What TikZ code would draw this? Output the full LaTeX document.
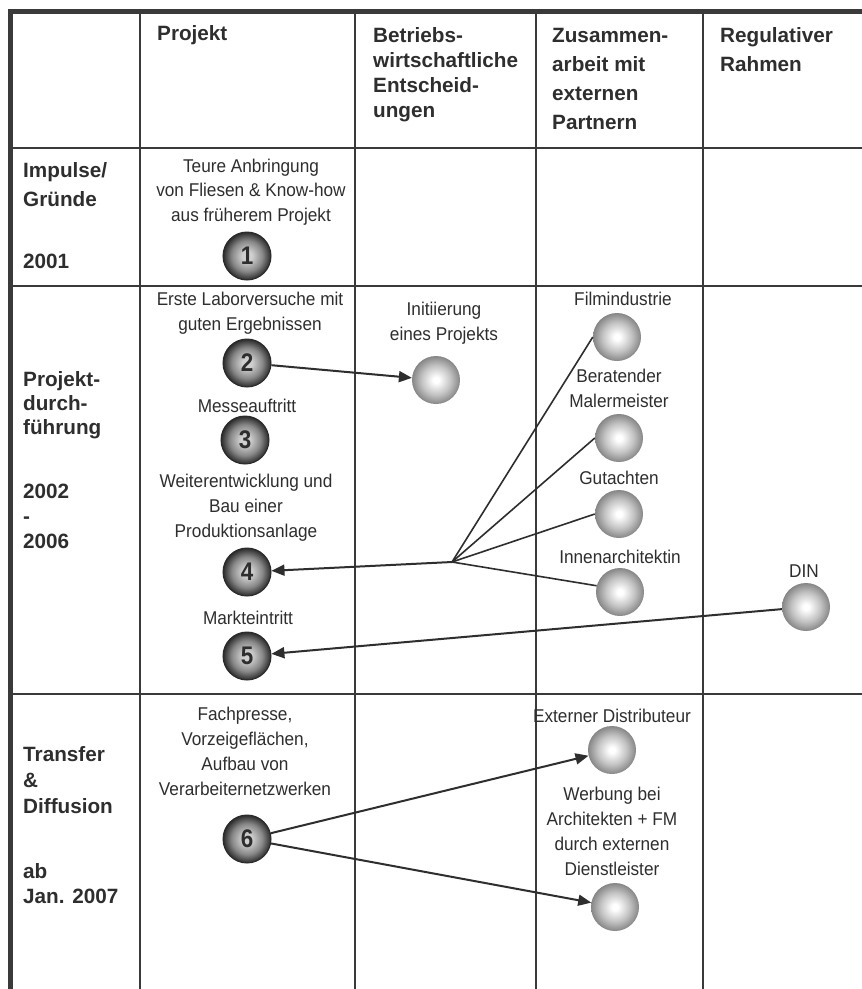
\documentclass[tikz,border=0pt]{standalone}
\usepackage{fontspec}
\setmainfont{Liberation Sans}
\newfontfamily\bodyfamily{Liberation Sans}[FakeStretch=0.93]
\newfontfamily\digitfamily{Liberation Sans}[FakeStretch=0.88]
\usetikzlibrary{arrows.meta}

% stacked lines: first line's baseline is the box baseline
\newcommand{\lstack}[2]{\vtop{\baselineskip=#1\lineskiplimit=-\maxdimen\lineskip=0pt\halign{##\hfil\cr#2\crcr}}}
\newcommand{\cstack}[2]{\vtop{\baselineskip=#1\lineskiplimit=-\maxdimen\lineskip=0pt\halign{\hfil##\hfil\cr#2\crcr}}}

\definecolor{ink}{HTML}{2E2E2E}
\definecolor{rule}{HTML}{3A3A3A}
\definecolor{numA}{HTML}{D0D0D0}
\definecolor{numB}{HTML}{888888}
\definecolor{numC}{HTML}{2A2A2A}
\definecolor{parA}{HTML}{FFFFFF}
\definecolor{parB}{HTML}{C4C4C4}
\definecolor{parC}{HTML}{868686}

\pgfdeclareradialshading{numshade}{\pgfpoint{0bp}{0bp}}{color(0bp)=(numA); color(5bp)=(numA); color(16bp)=(numB); color(25bp)=(numC); color(50bp)=(numC)}
\pgfdeclareradialshading{parshade}{\pgfpoint{0bp}{0bp}}{color(0bp)=(parA); color(3bp)=(parA); color(15bp)=(parB); color(25bp)=(parC); color(50bp)=(parC)}

\tikzset{
  frame/.style={draw=rule, line width=4.5pt},
  gridline/.style={draw=rule, line width=2.5pt},
  head/.style={inner sep=0pt, anchor=base west, text=ink, font=\bfseries\fontsize{20.7}{25}\selectfont},
  body/.style={inner sep=0pt, anchor=base, text=ink, font=\bodyfamily\fontsize{18.5}{25}\selectfont},
  numball/.style={circle, minimum size=48pt, inner sep=0pt, shade, shading=numshade, draw=numC, line width=1pt, text=ink, font=\digitfamily\bfseries\fontsize{25.5}{25}\selectfont},
  partball/.style={circle, minimum size=48pt, inner sep=0pt, shade, shading=parshade},
  flow/.style={draw=ink, line width=2pt, -{Triangle[length=13pt,width=11pt]}},
  fan/.style={draw=ink, line width=1.6pt}
}

\begin{document}
\begin{tikzpicture}[x=1pt, y=-1pt]
\useasboundingbox (0,0) rectangle (862,989);
\fill[white] (0,0) rectangle (862,989);

% table rules
\foreach \x in {140,355,536,703} \draw[gridline] (\x,11.5) -- (\x,989);
\foreach \y in {148,286,694} \draw[gridline] (10.5,\y) -- (862,\y);
\draw[frame] (10.5,989) -- (10.5,11.5) -- (862,11.5);

% column headings
\node[head] (hProj) at (157,40) {Projekt};
\node[head] (hBetr) at (373,42) {\lstack{25pt}{Betriebs-\cr wirtschaftliche\cr Entscheid-\cr ungen}};
\node[head] (hZus) at (552,42) {\lstack{29pt}{Zusammen-\cr arbeit mit\cr externen\cr Partnern}};
\node[head] (hReg) at (720,42) {\lstack{29pt}{Regulativer\cr Rahmen}};

% phase headings
\node[head] (lImp) at (23,177) {\lstack{29pt}{Impulse/\cr Gründe}};
\node[head] (lY1) at (23,268) {2001};
\node[head] (lPro) at (23,386) {\lstack{24pt}{Projekt-\cr durch-\cr führung}};
\node[head] (lY2) at (23,498) {\lstack{25pt}{2002\cr -\cr 2006}};
\node[head] (lTra) at (23,761) {\lstack{26pt}{Transfer\cr \&\cr Diffusion}};
\node[head] (lY3) at (23,878) {\lstack{25pt}{ab\cr Jan. 2007}};

% project column
\node[body] (t1) at (251,172) {\cstack{24.5pt}{Teure Anbringung\cr von Fliesen \& Know-how\cr aus früherem Projekt}};
\node[body] (t2) at (250,305) {\cstack{25pt}{Erste Laborversuche mit\cr guten Ergebnissen}};
\node[body] (t3) at (247,412) {Messeauftritt};
\node[body] (t4) at (246,487) {\cstack{25pt}{Weiterentwicklung und\cr Bau einer\cr Produktionsanlage}};
\node[body] (t5) at (248,624) {Markteintritt};
\node[body] (t6) at (245,720) {\cstack{25pt}{Fachpresse,\cr Vorzeigeflächen,\cr Aufbau von\cr Verarbeiternetzwerken}};

% decisions, partners, regulation
\node[body] (tInit) at (444,315) {\cstack{25pt}{Initiierung\cr eines Projekts}};
\node[body] (tFilm) at (623,305) {Filmindustrie};
\node[body] (tMaler) at (619,382) {\cstack{25pt}{Beratender\cr Malermeister}};
\node[body] (tGut) at (619,484) {Gutachten};
\node[body] (tInnen) at (620,563) {Innenarchitektin};
\node[body] (tDin) at (804,577) {DIN};
\node[body] (tExt) at (612,722) {Externer Distributeur};
\node[body] (tWer) at (612,800) {\cstack{25pt}{Werbung bei\cr Architekten + FM\cr durch externen\cr Dienstleister}};

% partner and decision balls
\node[partball] (init) at (436,380) {};
\node[partball] (film) at (617,337) {};
\node[partball] (maler) at (619,438) {};
\node[partball] (gut) at (619,514) {};
\node[partball] (innen) at (620,592) {};
\node[partball] (din) at (806,607) {};
\node[partball] (ext) at (612,750) {};
\node[partball] (wer) at (615,907) {};

% numbered project steps
\node[numball] (c1) at (247,256) {1};
\node[numball] (c2) at (247,363) {2};
\node[numball] (c3) at (245,440) {3};
\node[numball] (c4) at (247,572) {4};
\node[numball] (c5) at (247,656) {5};
\node[numball] (c6) at (247,839) {6};

% connectors
\coordinate (branch) at (452,562);
\draw[fan] (branch) -- (film.west);
\draw[fan] (branch) -- (maler.west);
\draw[fan] (branch) -- (gut.west);
\draw[fan] (branch) -- (innen.165);
\draw[flow] (branch) -- (c4);
\draw[flow] (c2) -- (init);
\draw[flow] (din) -- (c5);
\draw[flow] (c6) -- (ext);
\draw[flow] (c6) -- (wer);
\end{tikzpicture}
\end{document}
